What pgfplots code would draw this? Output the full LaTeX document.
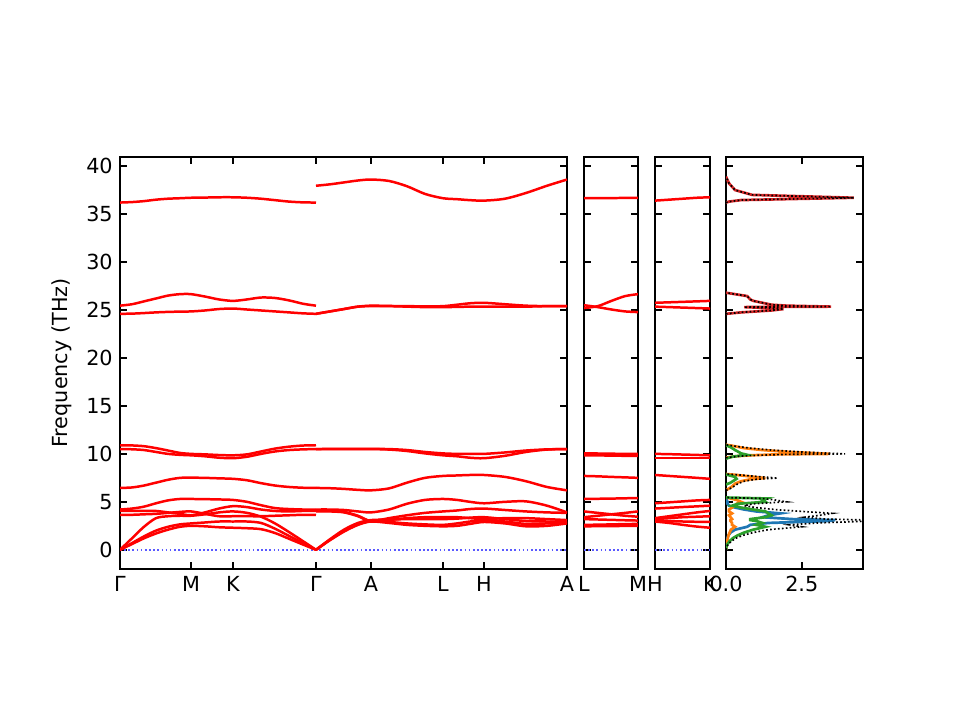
\documentclass[border=0pt]{standalone}
\usepackage{fontspec}
\setmainfont{DejaVu Sans}
\usepackage{pgfplots}
\usepackage{pgfplotstable}
\pgfplotsset{compat=1.18}
\definecolor{C0}{RGB}{31,119,180}
\definecolor{C1}{RGB}{255,127,14}
\definecolor{C2}{RGB}{44,160,44}
\definecolor{C3}{RGB}{214,39,40}
\definecolor{zblue}{RGB}{90,90,255}

\pgfplotstableread{
x b1 b2 b3 b4 b5 b6 b7 b8 b9 b10 b11 b12
0 0 0 0 3.65 4.05 4.2 6.45 10.5 10.9 24.6 25.45 36.2
12 0.6 0.7 1.2 3.65 4.05 4.3 6.5 10.48 10.88 24.62 25.6 36.25
24 1.2 1.4 2.4 3.7 4.05 4.5 6.7 10.4 10.8 24.68 25.9 36.35
36 1.7 2.0 3.3 3.75 4.05 4.85 7.0 10.2 10.6 24.75 26.2 36.5
48 2.1 2.4 3.5 3.85 3.9 5.15 7.3 10.0 10.35 24.8 26.5 36.6
60 2.4 2.65 3.55 3.95 3.75 5.3 7.5 9.9 10.1 24.83 26.65 36.65
71 2.5 2.75 3.55 4.0 3.6 5.3 7.52 9.85 10.0 24.85 26.65 36.7
85 2.45 2.85 3.7 3.75 3.9 5.28 7.5 9.75 9.95 24.95 26.4 36.72
99 2.35 2.95 3.9 3.5 4.3 5.25 7.45 9.6 9.88 25.1 26.1 36.75
113 2.3 2.95 4.0 3.5 4.55 5.2 7.4 9.55 9.85 25.15 25.95 36.75
127 2.25 2.95 3.85 3.5 4.45 5.0 7.25 9.7 9.95 25.05 26.1 36.7
141 2.15 2.8 3.45 3.5 4.2 4.65 6.95 10.0 10.25 24.95 26.3 36.6
155 1.75 2.2 2.75 3.55 4.05 4.35 6.7 10.25 10.55 24.85 26.25 36.45
169 1.15 1.45 1.85 3.6 4.0 4.25 6.55 10.4 10.75 24.75 26.0 36.3
183 0.55 0.7 0.9 3.65 4.05 4.2 6.47 10.47 10.87 24.65 25.65 36.22
196 0 0 0 3.65 4.05 4.2 6.45 10.5 10.9 24.6 25.45 36.2
}\segA

\pgfplotstableread{
x b1 b2 b3 b4 b5 b6 b7 b8 b9 b10 b11 b12
196 0 0 0 4.0 4.05 4.2 6.45 10.5 10.5 24.6 24.6 37.95
210 1.0 1.05 1.1 4.0 4.05 4.2 6.42 10.5 10.52 24.85 24.85 38.1
224 1.9 1.95 2.1 3.9 3.95 4.15 6.35 10.5 10.53 25.1 25.1 38.3
238 2.6 2.65 2.8 3.5 3.55 4.0 6.25 10.5 10.53 25.35 25.35 38.5
251 2.95 3.0 3.1 2.95 3.0 3.9 6.2 10.5 10.52 25.4 25.45 38.6
269 2.8 2.9 3.15 3.1 3.3 4.2 6.4 10.45 10.5 25.4 25.42 38.45
287 2.6 2.75 3.2 3.3 3.6 4.8 7.0 10.3 10.4 25.35 25.4 37.9
305 2.5 2.65 3.2 3.4 3.85 5.2 7.5 10.05 10.2 25.3 25.38 37.1
323 2.45 2.6 3.2 3.4 4.0 5.3 7.7 9.85 10.05 25.3 25.4 36.65
337 2.5 2.75 3.25 3.4 4.1 5.2 7.75 9.75 10.0 25.32 25.55 36.55
350 2.7 2.95 3.35 3.3 4.25 5.0 7.8 9.6 10.0 25.35 25.7 36.45
364 2.9 3.05 3.4 3.2 4.3 4.85 7.8 9.55 10.0 25.35 25.75 36.4
385 2.75 2.95 3.2 3.3 4.15 5.0 7.6 9.8 10.15 25.35 25.6 36.6
406 2.45 2.7 3.0 3.3 4.0 5.05 7.15 10.2 10.35 25.35 25.45 37.2
427 2.5 2.75 2.95 3.2 3.9 4.6 6.55 10.45 10.47 25.4 25.4 37.95
447 2.75 2.85 2.95 3.1 3.85 3.9 6.2 10.5 10.5 25.4 25.4 38.6
}\segB

\pgfplotstableread{
x b1 b2 b3 b4 b5 b6 b7 b8 b9 b10 b11 b12
0 2.45 2.6 3.2 3.4 4.0 5.3 7.7 9.85 10.05 25.5 25.2 36.65
14 2.46 2.62 3.16 3.55 3.85 5.32 7.66 9.84 10.04 25.3 25.4 36.66
28 2.47 2.65 3.12 3.7 3.7 5.34 7.6 9.82 10.02 25.05 25.95 36.67
42 2.49 2.68 3.08 3.85 3.55 5.37 7.55 9.8 10.0 24.85 26.45 36.68
55 2.5 2.7 3.05 4.0 3.45 5.4 7.5 9.8 10.0 24.78 26.65 36.7
}\segC

\pgfplotstableread{
x b1 b2 b3 b4 b5 b6 b7 b8 b9 b10 b11 b12
0 2.95 3.05 3.3 3.2 4.3 4.85 7.8 9.55 10.0 25.35 25.75 36.4
14 2.8 3.0 3.5 3.3 4.38 4.95 7.7 9.55 9.97 25.3 25.8 36.5
28 2.6 2.95 3.7 3.4 4.46 5.05 7.6 9.55 9.93 25.25 25.85 36.6
42 2.42 2.92 3.9 3.45 4.53 5.15 7.5 9.55 9.89 25.2 25.9 36.7
55 2.3 2.9 4.05 3.5 4.6 5.2 7.4 9.55 9.85 25.15 25.95 36.75
}\segD

\pgfplotsset{
  bandax/.style={scale only axis, height=2.7467in, ymin=-2, ymax=40.95,
    anchor=south west, tick align=inside,
    xtick pos=both, ytick pos=both, xticklabel pos=lower, yticklabel pos=left,
    major tick length=3.5pt,
    every tick/.style={black, line width=0.8pt},
    axis line style={line width=0.8pt},
    ytick={0,5,...,40},
    /pgf/number format/assume math mode=true,
    tick label style={font=\fontsize{10}{12}\selectfont},
    label style={font=\fontsize{10}{12}\selectfont}},
  band/.style={red, line width=1.2pt, smooth, tension=0.5, no marks, line join=round},
  zeroline/.style={draw=zblue, line width=0.8pt, dash pattern=on 0.8pt off 1.2pt, no marks},
  tdos/.style={black, line width=0.8pt, dash pattern=on 0.8pt off 1.1pt, no marks},
  pdos/.style={line width=1.3pt, no marks},
}

\begin{document}
\begin{tikzpicture}
\useasboundingbox (0,0) rectangle (6.4in,4.8in);

% main panel
\begin{axis}[bandax, at={(0.8in,1.0067in)}, width=2.98in,
  xmin=0, xmax=447,
  xtick={0,71,113,196,251,323,364,447},
  xticklabels={Γ,M,K,Γ,A,L,H,A},
  ylabel={Frequency (THz)}]
\addplot[zeroline] coordinates {(0,0) (447,0)};
\pgfplotsinvokeforeach{1,...,12}{
  \addplot[band] table[x=x, y=b#1] {\segA};
  \addplot[band] table[x=x, y=b#1] {\segB};
}
\end{axis}

% L-M panel
\begin{axis}[bandax, at={(3.8933in,1.0067in)}, width=0.36in,
  xmin=0, xmax=55, xtick={0,55}, xticklabels={L,M}, yticklabels={}]
\addplot[zeroline] coordinates {(0,0) (55,0)};
\pgfplotsinvokeforeach{1,...,12}{
  \addplot[band] table[x=x, y=b#1] {\segC};
}
\end{axis}

% H-K panel
\begin{axis}[bandax, at={(4.3667in,1.0067in)}, width=0.3667in,
  xmin=0, xmax=55, xtick={0,55}, xticklabels={H,K}, yticklabels={}]
\addplot[zeroline] coordinates {(0,0) (55,0)};
\pgfplotsinvokeforeach{1,...,12}{
  \addplot[band] table[x=x, y=b#1] {\segD};
}
\end{axis}

% DOS panel
\begin{axis}[bandax, at={(4.84in,1.0067in)}, width=0.9133in,
  xmin=0, xmax=4.52, xtick={0,2.5}, xticklabels={0.0,2.5}, yticklabels={}]
% red partial (high modes)
\addplot[pdos, C3] coordinates {
(0,24.6)(0.5,24.75)(1.5,24.95)(1.9,25.1)(1.5,25.2)(0.6,25.3)(3.47,25.35)(2.0,25.45)(1.5,25.55)(1.2,25.75)(0.9,25.95)(0.8,26.1)(0.7,26.45)(0.2,26.7)(0,26.8)
};
\addplot[pdos, C3] coordinates {
(0,36.2)(0.1,36.3)(0.5,36.46)(4.22,36.7)(0.86,37.0)(0.3,37.5)(0.1,38.2)(0,38.9)
};
% blue partial
\addplot[pdos, C0] coordinates {
(0,0)(0.01,0.6)(0.02,0.9)(0.04,1.2)(0.08,1.5)(0.15,1.8)(0.3,2.1)(0.7,2.4)(0.8,2.6)(1.4,2.8)(3.4,3.0)(3.6,3.1)(2.2,3.2)(1.2,3.4)(1.4,3.6)(1.8,3.8)(1.0,4.0)(0.6,4.2)(0.3,4.4)(0.1,4.6)(0.05,4.8)(0.05,5.0)(0.02,5.2)(0,5.45)
};
% orange partial
\addplot[pdos, C1] coordinates {
(0,0)(0.01,0.3)(0.02,0.6)(0.04,0.9)(0.06,1.2)(0.08,1.5)(0.12,1.8)(0.16,2.1)(0.3,2.4)(0.2,2.6)(0.2,2.8)(0.15,3.0)(0.15,3.1)(0.2,3.2)(0.15,3.4)(0.1,3.6)(0.2,3.8)(0.1,4.0)(0.1,4.2)(0.2,4.4)(0.3,4.6)(0.35,4.8)(0.5,5.0)(0.35,5.2)(0.15,5.35)(0,5.45)
};
\addplot[pdos, C1] coordinates {
(0,6.2)(0.1,6.4)(0.2,6.6)(0.3,6.9)(0.5,7.15)(0.8,7.35)(1.3,7.48)(0.8,7.65)(0.3,7.82)(0,7.9)
};
\addplot[pdos, C1] coordinates {
(0,9.6)(0.3,9.75)(0.8,9.85)(1.7,9.95)(3.43,10.0)(2.8,10.1)(2.1,10.2)(1.2,10.4)(0.6,10.6)(0.2,10.85)(0,10.95)
};
% green partial
\addplot[pdos, C2] coordinates {
(0,0)(0.01,0.3)(0.05,0.6)(0.12,0.9)(0.22,1.2)(0.38,1.5)(0.6,1.8)(0.9,2.1)(1.3,2.4)(1.0,2.6)(1.2,2.8)(1.0,3.0)(0.8,3.1)(0.8,3.2)(1.3,3.4)(1.5,3.6)(1.4,3.8)(1.3,4.0)(0.9,4.2)(0.5,4.4)(0.2,4.6)(0.4,4.8)(1.3,5.0)(1.2,5.2)(1.35,5.35)(0,5.45)
};
\addplot[pdos, C2] coordinates {
(0,6.8)(0.15,7.0)(0.35,7.4)(0.3,7.6)(0,7.85)
};
\addplot[pdos, C2] coordinates {
(0,9.5)(0.2,9.7)(0.7,9.9)(0.5,10.05)(0.3,10.4)(0.15,10.7)(0,10.9)
};
% total DOS
\addplot[tdos] coordinates {
(0,0)(0.02,0.3)(0.08,0.6)(0.18,0.9)(0.32,1.2)(0.55,1.5)(0.9,1.8)(1.4,2.1)(2.5,2.4)(2.1,2.6)(3.0,2.8)(4.8,3.0)(4.8,3.1)(3.3,3.2)(2.6,3.4)(3.1,3.6)(3.5,3.8)(2.5,4.0)(1.6,4.2)(1.0,4.4)(0.6,4.6)(0.9,4.8)(2.0,5.0)(1.6,5.2)(1.2,5.35)(0,5.45)
};
\addplot[tdos] coordinates {
(0,6.2)(0.15,6.4)(0.25,6.6)(0.4,6.9)(0.6,7.15)(1.0,7.35)(1.7,7.48)(1.0,7.65)(0.4,7.82)(0,7.9)
};
\addplot[tdos] coordinates {
(0,9.6)(0.4,9.75)(1.0,9.85)(2.0,9.95)(3.93,10.0)(3.2,10.1)(2.5,10.2)(1.5,10.4)(0.8,10.6)(0.2,10.85)(0,10.95)
};
\addplot[tdos] coordinates {
(0,24.6)(0.5,24.75)(1.5,24.95)(1.9,25.1)(1.5,25.2)(0.6,25.3)(3.47,25.35)(2.0,25.45)(1.5,25.55)(1.2,25.75)(0.9,25.95)(0.8,26.1)(0.7,26.45)(0.2,26.7)(0,26.8)
};
\addplot[tdos] coordinates {
(0,36.2)(0.1,36.3)(0.5,36.46)(4.22,36.7)(0.86,37.0)(0.3,37.5)(0.1,38.2)(0,38.9)
};
\end{axis}
\end{tikzpicture}
\end{document}
